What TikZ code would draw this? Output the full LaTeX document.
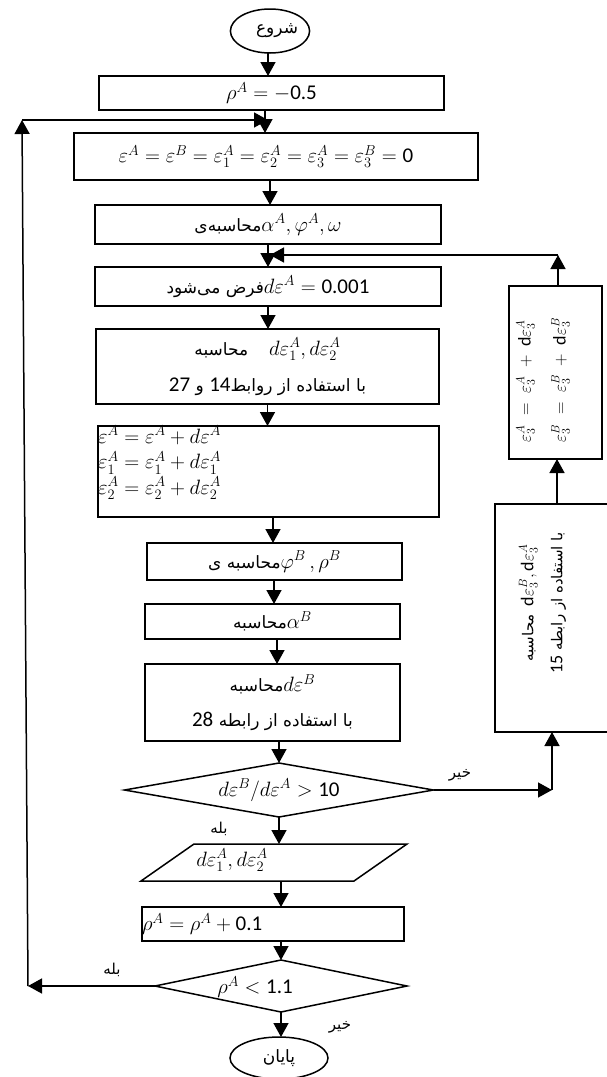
\documentclass[tikz,border=0pt]{standalone}
\usepackage{fontspec}
\setmainfont{Carlito}
\newfontfamily\arfont[Script=Arabic]{DejaVu Sans}
\TeXXeTstate=1
\usetikzlibrary{shapes.geometric,arrows.meta,calc}
\newcommand\ARF[1][17]{\arfont\fontsize{#1}{\baselineskip}\selectfont}
\newcommand\W[1]{\beginR #1\endR}
\newcommand\ART[2][17]{{\ARF[#1]\W{#2}}}
\newcommand\LD[2][21]{\beginL{\rmfamily\fontsize{#1}{\baselineskip}\selectfont #2}\endL{}}
\begin{document}
\begin{tikzpicture}[x=1pt,y=-1pt]
\tikzset{
  box/.style={draw, rectangle, line width=1.5pt, inner sep=0pt, outer sep=0pt, font=\fontsize{21}{25}\selectfont},
  flow/.style={line width=1.5pt, -{Triangle[length=14pt,width=15pt]}},
  txt/.style={inner sep=0pt, outer sep=0pt, font=\fontsize{21}{25}\selectfont},
}
\fill[white] (0,0) rectangle (606,1077);
\useasboundingbox (0,0) rectangle (606,1077);

% main column
\node[box, ellipse, minimum width=78pt, minimum height=44pt] (start) at (270,31) {\hspace*{14pt}\ART{شروع}};
\node[box, minimum width=345pt, minimum height=34pt] (rho) at (271.5,93) {$\rho^A = -$0.5};
\node[box, minimum width=404pt, minimum height=47pt] (eps) at (276,156.5) {\hspace*{-20pt}$\varepsilon^A = \varepsilon^B = \varepsilon^A_1 = \varepsilon^A_2 = \varepsilon^A_3 = \varepsilon^B_3 = {}$0};
\node[box, minimum width=346pt, minimum height=39pt] (comp) at (268,224.5) {\ART{محاسبه‌ی}$\alpha^A, \varphi^A, \omega$};
\node[box, minimum width=346pt, minimum height=39pt] (de) at (268,286.5) {{\ARF\W{می‌شود} \W{فرض}}$d\varepsilon^A = {}$0.001};
\node[box, minimum width=343pt, minimum height=75pt, align=center, font=\fontsize{21}{36}\selectfont] (two) at (267.5,366.5) {\ART{محاسبه}\quad$d\varepsilon^A_1, d\varepsilon^A_2$\\ {\ARF\LD{27} \W{و} \LD{14}\W{روابط} \W{از} \W{استفاده} \W{با}}};
\node[box, minimum width=341pt, minimum height=91pt] (three) at (268.5,471.5) {};
\node[txt, anchor=north west, align=left, font=\fontsize{20.5}{25.5}\selectfont] (threet) at (98,426) {$\varepsilon^A = \varepsilon^A + d\varepsilon^A$\\ $\varepsilon^A_1 = \varepsilon^A_1 + d\varepsilon^A_1$\\ $\varepsilon^A_2 = \varepsilon^A_2 + d\varepsilon^A_2$};
\node[box, minimum width=255pt, minimum height=37pt] (phi) at (274.5,561.5) {{\ARF\W{ی} \W{محاسبه}}$\varphi^B\,, \rho^B$};
\node[box, minimum width=255pt, minimum height=35pt] (alp) at (272.5,621.5) {\ART{محاسبه}$\alpha^B$};
\node[box, minimum width=255pt, minimum height=77pt, align=center, font=\fontsize{21}{35}\selectfont] (deb) at (272.5,702.5) {\ART{محاسبه}$d\varepsilon^B$\\ {\ARF\LD{28} \W{رابطه} \W{از} \W{استفاده} \W{با}}};
\node[box, diamond, aspect=5.7, minimum width=309pt, minimum height=54pt] (d1) at (279,790) {$d\varepsilon^B/d\varepsilon^A > {}$10};
\node[minimum width=266pt, minimum height=37pt, inner sep=0pt, outer sep=0pt] (para) at (274,862.5) {};
\draw[line width=1.5pt] ($(para.north west)+(53,0)$) -- (para.north east) -- ($(para.south east)+(-53,0)$) -- (para.south west) -- cycle;
\node[txt] (parat) at (232,860) {$d\varepsilon^A_1, d\varepsilon^A_2$};
\node[box, minimum width=262pt, minimum height=34pt, text width=262pt, align=left] (rhob) at (273,924) {$\rho^A = \rho^A + {}$0.1};
\node[box, diamond, aspect=4.85, minimum width=252pt, minimum height=52pt] (d2) at (281,986) {};
\node[txt] (d2t) at (255,987) {$\rho^A < {}$1.1};
\node[box, ellipse, minimum width=98pt, minimum height=42pt] (endn) at (279,1058) {\ART{پایان}};

% right column
\node[box, minimum width=93pt, minimum height=173pt] (rb1) at (555.5,372.5) {};
\node[txt, rotate=90, align=left, font=\fontsize{18}{35}\selectfont] (rb1t) at (543,380) {$\varepsilon^A_3 \;=\; \varepsilon^A_3 \;+\; \mathrm{d}\varepsilon^A_3$\\ $\varepsilon^B_3 \;=\; \varepsilon^B_3 \;+\; \mathrm{d}\varepsilon^B_3$};
\node[box, minimum width=113pt, minimum height=228pt] (rb2) at (551.5,618) {};
\node[txt, rotate=90, align=center, font=\fontsize{18}{29}\selectfont] (rb2t) at (542.5,603) {\ART[15]{محاسبه}\ \ $\mathrm{d}\varepsilon^B_3, \mathrm{d}\varepsilon^A_3$\\ {\ARF[15]\LD[18]{15} \W{رابطه} \W{از} \W{استفاده} \W{با}}};

% labels
\node[txt] (no1) at (460,775) {\ART[15]{خیر}};
\node[txt] (yes1) at (219,829) {\ART[15]{بله}};
\node[txt] (yes2) at (112,970) {\ART[15]{بله}};
\node[txt] (no2) at (340,1027) {\ART[15]{خیر}};

% connectors
\draw[flow] ($(start.south)+(-2,0)$) -- ($(start.south |- rho.north)+(-2,0)$);
\draw[flow] ($(rho.south)+(-6.5,0)$) -- ($(rho.south |- eps.north)+(-6.5,0)$);
\draw[flow] ($(comp.north |- eps.south)+(2,0)$) -- ($(comp.north)+(2,0)$);
\draw[flow] (comp.south) -- (comp.south |- de.north);
\draw[flow] (de.south) -- (de.south |- two.north);
\draw[flow] (two.south) -- (two.south |- three.north);
\draw[flow] ($(three.south)+(4.5,0)$) -- ($(three.south |- phi.north)+(4.5,0)$);
\draw[flow] ($(phi.south)+(-0.5,0)$) -- ($(phi.south |- alp.north)+(-0.5,0)$);
\draw[flow] ($(alp.south)+(4.5,0)$) -- ($(alp.south |- deb.north)+(4.5,0)$);
\draw[flow] (d1.north |- deb.south) -- (d1.north);
\draw[flow] (d1.south) -- (d1.south |- para.north);
\draw[flow] (d2.north |- para.south) -- (d2.north |- rhob.north);
\draw[flow] (d2.north |- rhob.south) -- (d2.north);
\draw[flow] (d2.south) -- (d2.south |- endn.north);

\coordinate (kA) at (552,790);
\draw[flow] (d1.east) -- (kA);
\draw[flow] (kA) -- (kA |- rb2.south);
\draw[flow] ($(rb2.north)+(5.5,0)$) -- ($(rb1.south)+(1.5,0)$);
\coordinate (kB) at (558,255);
\coordinate (kC) at (270,255);
\draw[flow] (kB |- rb1.north) -- (kB);
\draw[flow] (kB) -- (kC);

\coordinate (kD) at (28,986);
\coordinate (kE) at (22,120);
\coordinate (kF) at (268,120);
\draw[flow] (d2.west) -- (kD);
\draw[flow] (kD) -- (kE);
\draw[flow] (kE) -- (kF);
\end{tikzpicture}
\end{document}
